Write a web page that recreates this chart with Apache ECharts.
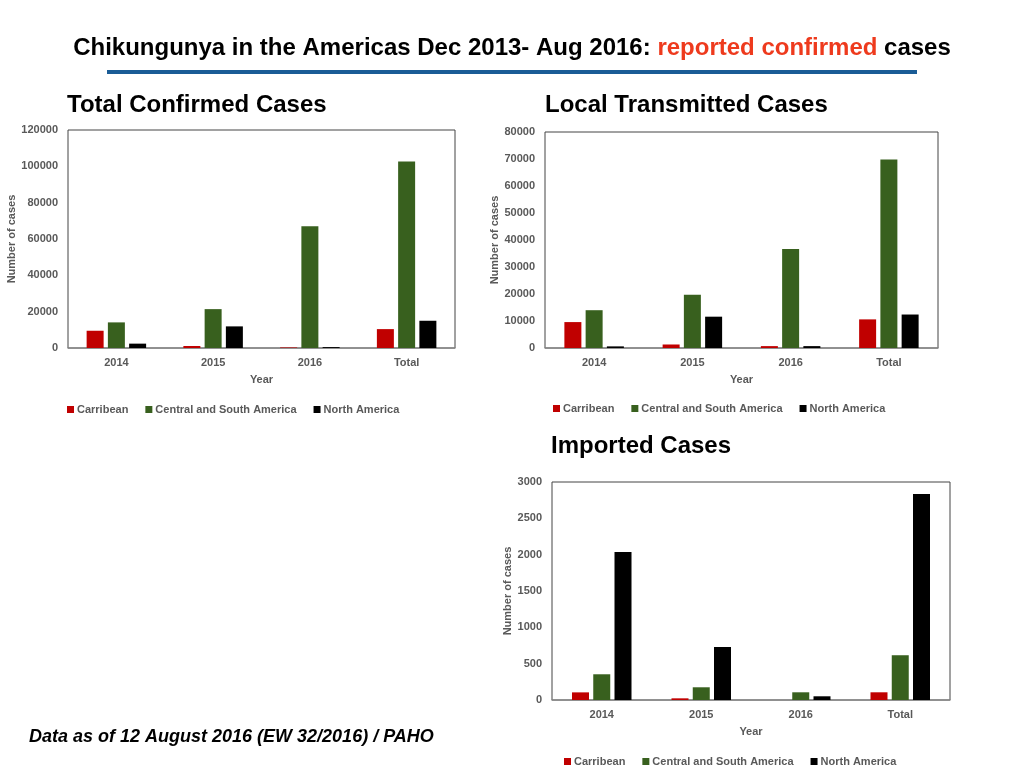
<!DOCTYPE html>
<html>
<head>
<meta charset="utf-8">
<title>Chikungunya in the Americas</title>
<script src="https://cdn.jsdelivr.net/npm/echarts@6/dist/echarts.min.js"></script>
<style>
  html, body { margin: 0; padding: 0; background: #fff; }
  #main { width: 1024px; height: 768px; }
</style>
</head>
<body>
<div id="main"></div>
<script>
// categories and series
var years = ['2014', '2015', '2016', 'Total'];
var regions = ['Carribean', 'Central and South America', 'North America'];
var regionColors = ['#c00000', '#38601e', '#000000'];

// Total confirmed cases
var totalCarribean = [9500, 1100, 300, 10400];
var totalCentral = [14100, 21400, 67000, 102700];
var totalNorth = [2400, 11900, 500, 15000];

// Local transmitted cases
var localCarribean = [9600, 1300, 700, 10600];
var localCentral = [14000, 19700, 36700, 69800];
var localNorth = [600, 11600, 700, 12400];

// Imported cases
var importCarribean = [105, 23, 0, 106];
var importCentral = [354, 175, 106, 616];
var importNorth = [2038, 731, 51, 2834];

var font = '"Liberation Sans", Arial, sans-serif';
var labelGray = '#595959';

var chart = echarts.init(document.getElementById('main'));

// one panel = grid + axes, positions in px
var panels = [
  { left: 68, top: 130, width: 387, height: 218, max: 120000, interval: 20000, nameGap: 49,
    data: [totalCarribean, totalCentral, totalNorth], legendLeft: 67, legendTop: 404 },
  { left: 545, top: 132, width: 393, height: 216, max: 80000, interval: 10000, nameGap: 41,
    data: [localCarribean, localCentral, localNorth], legendLeft: 553, legendTop: 403 },
  { left: 552, top: 482, width: 398, height: 218, max: 3000, interval: 500, nameGap: 37,
    data: [importCarribean, importCentral, importNorth], legendLeft: 564, legendTop: 756 }
];

var grids = [], xAxes = [], yAxes = [], series = [], legends = [];

panels.forEach(function (p, i) {
  grids.push({
    left: p.left, top: p.top, width: p.width, height: p.height,
    show: true, borderColor: '#444', borderWidth: 1, containLabel: false
  });
  xAxes.push({
    type: 'category', gridIndex: i, data: years,
    name: 'Year', nameLocation: 'middle', nameGap: 26,
    nameTextStyle: { color: labelGray, fontSize: 11, fontWeight: 'bold', fontFamily: font },
    axisLine: { lineStyle: { color: '#8c8c8c', width: 1.5 } },
    axisTick: { show: false },
    axisLabel: { color: labelGray, fontSize: 11, fontWeight: 'bold', fontFamily: font, margin: 9 }
  });
  yAxes.push({
    type: 'value', gridIndex: i, min: 0, max: p.max, interval: p.interval,
    name: 'Number of cases', nameLocation: 'middle', nameGap: p.nameGap,
    nameTextStyle: { color: labelGray, fontSize: 11, fontWeight: 'bold', fontFamily: font },
    axisLine: { show: false },
    axisTick: { show: false },
    splitLine: { show: false },
    axisLabel: {
      color: labelGray, fontSize: 11, fontWeight: 'bold', fontFamily: font, margin: 10,
      formatter: function (v) { return String(v); }
    }
  });
  regions.forEach(function (r, k) {
    series.push({
      name: r, type: 'bar', xAxisIndex: i, yAxisIndex: i,
      data: p.data[k], barWidth: 17, barGap: '25%',
      itemStyle: { color: regionColors[k] },
      animation: false
    });
  });
  legends.push({
    left: p.legendLeft, top: p.legendTop, orient: 'horizontal', padding: 0,
    data: regions, icon: 'rect', itemWidth: 7, itemHeight: 7, itemGap: 17,
    textStyle: { color: labelGray, fontSize: 11, fontWeight: 'bold', fontFamily: font, padding: [0, 0, 0, -2] },
    selectedMode: false
  });
});

var option = {
  animation: false,
  title: [
    {
      text: '{a|Chikungunya in the Americas Dec 2013- Aug 2016: }{r|reported confirmed}{a| cases}',
      left: 'center', top: 31,
      textStyle: {
        rich: {
          a: { color: '#000', fontSize: 24, fontWeight: 'bold', fontFamily: font },
          r: { color: '#ee3a1d', fontSize: 24, fontWeight: 'bold', fontFamily: font }
        }
      }
    },
    { text: 'Total Confirmed Cases', left: 62, top: 88,
      textStyle: { color: '#000', fontSize: 24, fontWeight: 'bold', fontFamily: font } },
    { text: 'Local Transmitted Cases', left: 540, top: 88,
      textStyle: { color: '#000', fontSize: 24, fontWeight: 'bold', fontFamily: font } },
    { text: 'Imported Cases', left: 546, top: 429,
      textStyle: { color: '#000', fontSize: 24, fontWeight: 'bold', fontFamily: font } }
  ],
  legend: legends,
  grid: grids,
  xAxis: xAxes,
  yAxis: yAxes,
  series: series,
  graphic: [
    {
      type: 'line', silent: true,
      shape: { x1: 107, y1: 72, x2: 917, y2: 72 },
      style: { stroke: '#1a5c96', lineWidth: 4 }
    },
    {
      type: 'text', left: 29, top: 728,
      style: {
        text: 'Data as of 12 August 2016 (EW 32/2016) / PAHO',
        fill: '#000', font: 'italic bold 18px "Liberation Sans", Arial, sans-serif'
      }
    }
  ]
};

chart.setOption(option);
</script>
</body>
</html>
